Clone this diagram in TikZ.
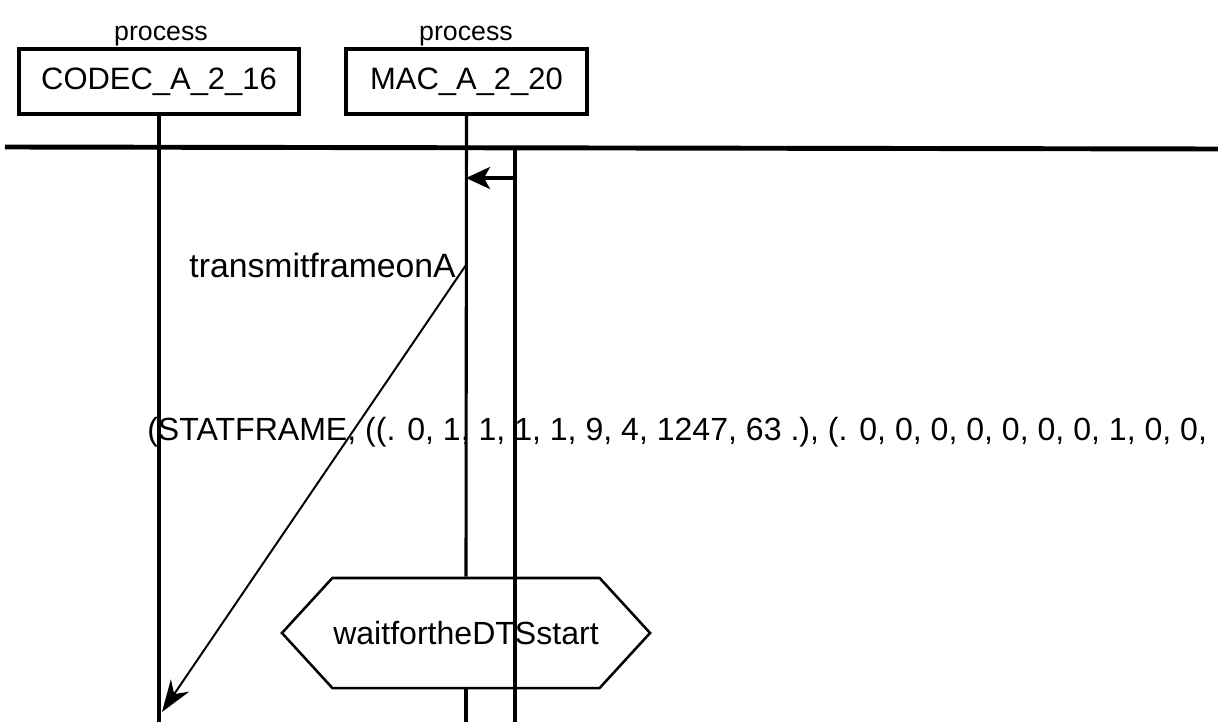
\documentclass[tikz,border=0pt]{standalone}
\usepackage{fontspec}
\setmainfont{Liberation Sans}
\usetikzlibrary{arrows.meta,shapes.symbols}
\begin{document}
\begin{tikzpicture}[x=0.025cm, y=-0.025cm,
        proc/.style={rectangle, draw, line width=2.2pt, minimum height=1.625cm, inner sep=0pt, font=\fontsize{22}{24}\selectfont},
        kind/.style={anchor=base, inner sep=0pt, font=\fontsize{19}{21}\selectfont},
        life/.style={line width=2.2pt},
        state/.style={shape=signal, signal to=west and east, signal pointer angle=95, draw, line width=1.8pt, minimum width=9.2cm, minimum height=2.75cm, inner sep=0pt, font=\fontsize{22.8}{26}\selectfont},
        msg/.style={-{Stealth[length=8mm, width=5.5mm]}, line width=1.4pt},
        sig/.style={-{Stealth[length=6mm, width=5.5mm, inset=1.5mm]}, line width=2.2pt},
        txt/.style={inner sep=0pt, font=\fontsize{22}{26}\selectfont}
    ]
    \useasboundingbox (0,0) rectangle (1218,722);

    \node[proc, minimum width=7cm] (codec) at (159,81.5) {CODEC\_A\_2\_16};
    \node[proc, minimum width=6.025cm] (mac) at (466.5,81.5) {MAC\_A\_2\_20};
    \node[kind] (codeckind) at (161,41) {process};
    \node[kind] (mackind) at (466,41) {process};
    \node[state] (wait) at (466,633) {waitfortheDTSstart};

    \coordinate (codecend) at (codec.south |- 0,722);
    \coordinate (macend) at (466,722);
    \coordinate (acttop) at (515,147);
    \coordinate (actend) at (515,722);
    \coordinate (left) at (5,147);
    \coordinate (right) at (1218,149);
    \coordinate (sigsrc) at (515,178);
    \coordinate (sigdst) at (466,178);
    \coordinate (msgsrc) at (466,265);
    \coordinate (msgdst) at (162,712);

    \draw[line width=3.5pt] (left) -- (right);
    \draw[life] (codec.south) -- (codecend);
    \draw[life] (mac.south) -- (wait.north);
    \draw[life] (wait.south) -- (macend);
    \draw[life] (acttop) -- (actend);
    \draw[sig] (sigsrc) -- (sigdst);
    \draw[msg] (msgsrc) -- (msgdst);

    \node[txt, anchor=east, font=\fontsize{24}{26}\selectfont] (msgname) at (456,265) {transmitframeonA};
    \node[txt, anchor=west, font=\fontsize{22.8}{26}\selectfont] (msgparam) at (147,432) {(STATFRAME, ((. 0, 1, 1, 1, 1, 9, 4, 1247, 63 .), (. 0, 0, 0, 0, 0, 0, 0, 1, 0, 0,};
\end{tikzpicture}
\end{document}
